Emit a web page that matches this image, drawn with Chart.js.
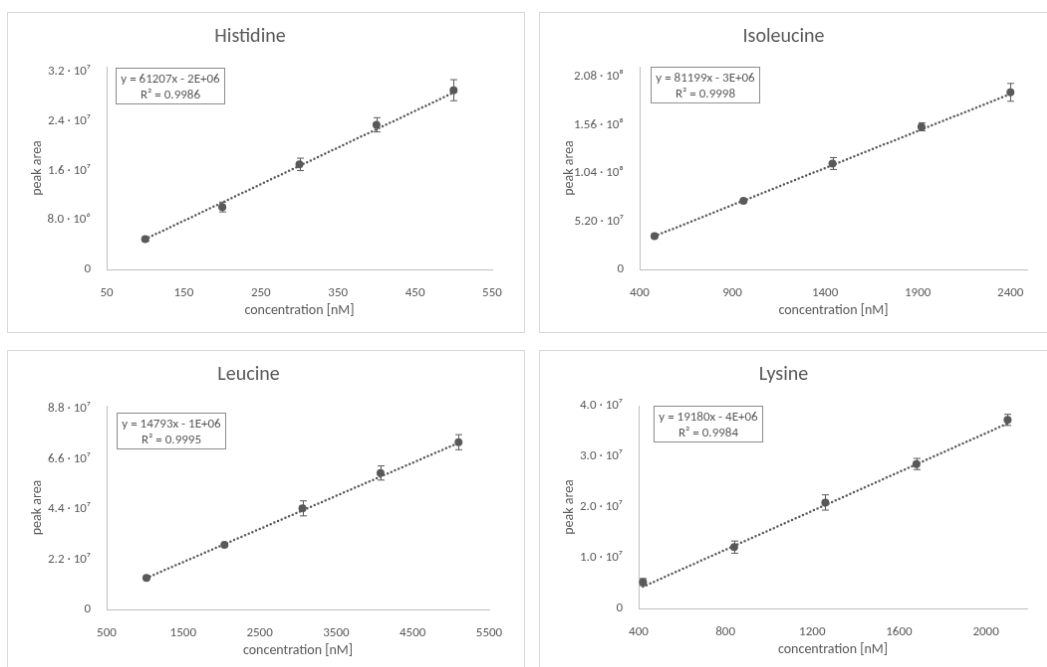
<!DOCTYPE html>
<html>
<head>
<meta charset="utf-8">
<script src="https://cdn.jsdelivr.net/npm/chart.js@4.4.1/dist/chart.umd.min.js"></script>
<style>
    body { margin: 0; background: #fff; width: 1047px; height: 667px; overflow: hidden; position: relative; }
    canvas { position: absolute; border: 1px solid #d9d9d9; }
</style>
</head>
<body>
<canvas id="his" width="518" height="321" style="left:7px;top:12px"></canvas>
<canvas id="iso" width="520" height="321" style="left:539px;top:12px"></canvas>
<canvas id="leu" width="518" height="330" style="left:7px;top:350px"></canvas>
<canvas id="lys" width="520" height="330" style="left:539px;top:350px"></canvas>
<script>
// Histidine
var hisX = [100, 200, 300, 400, 500];
var hisY = [4.9e6, 1.01e7, 1.70e7, 2.34e7, 2.90e7];
var hisErr = [0.3e6, 0.8e6, 1.0e6, 1.15e6, 1.7e6];
var hisTrendX = [100, 500];
var hisTrendY = [4.9e6, 2.86e7];
var hisXTicks = [50, 150, 250, 350, 450, 550];
var hisYTicks = [0, 8e6, 1.6e7, 2.4e7, 3.2e7];
var hisYLabels = ['0', '8.0 · 10⁶', '1.6 · 10⁷', '2.4 · 10⁷', '3.2 · 10⁷'];
var hisEq = ['y = 61207x - 2E+06', 'R² = 0.9986'];

// Isoleucine
var isoX = [480, 960, 1440, 1920, 2400];
var isoY = [3.58e7, 7.40e7, 1.141e8, 1.537e8, 1.908e8];
var isoErr = [1.0e6, 1.5e6, 6.4e6, 4.3e6, 9.6e6];
var isoTrendX = [480, 2400];
var isoTrendY = [3.58e7, 1.89e8];
var isoXTicks = [400, 900, 1400, 1900, 2400];
var isoYTicks = [0, 5.2e7, 1.04e8, 1.56e8, 2.08e8];
var isoYLabels = ['0', '5.20 · 10⁷', '1.04 · 10⁸', '1.56 · 10⁸', '2.08 · 10⁸'];
var isoEq = ['y = 81199x - 3E+06', 'R² = 0.9998'];

// Leucine
var leuX = [1020, 2040, 3060, 4080, 5100];
var leuY = [1.38e7, 2.83e7, 4.43e7, 5.98e7, 7.33e7];
var leuErr = [0.5e6, 0.6e6, 3.3e6, 3.1e6, 3.3e6];
var leuTrendX = [1020, 5100];
var leuTrendY = [1.38e7, 7.3e7];
var leuXTicks = [500, 1500, 2500, 3500, 4500, 5500];
var leuYTicks = [0, 2.2e7, 4.4e7, 6.6e7, 8.8e7];
var leuYLabels = ['0', '2.2 · 10⁷', '4.4 · 10⁷', '6.6 · 10⁷', '8.8 · 10⁷'];
var leuEq = ['y = 14793x - 1E+06', 'R² = 0.9995'];

// Lysine
var lysX = [420, 840, 1260, 1680, 2100];
var lysY = [5.2e6, 1.21e7, 2.09e7, 2.85e7, 3.72e7];
var lysErr = [0.7e6, 1.2e6, 1.5e6, 1.1e6, 1.1e6];
var lysTrendX = [420, 2100];
var lysTrendY = [4.3e6, 3.65e7];
var lysXTicks = [400, 800, 1200, 1600, 2000];
var lysYTicks = [0, 1e7, 2e7, 3e7, 4e7];
var lysYLabels = ['0', '1.0 · 10⁷', '2.0 · 10⁷', '3.0 · 10⁷', '4.0 · 10⁷'];
var lysEq = ['y = 19180x - 4E+06', 'R² = 0.9984'];

var grey = '#595959';
Chart.defaults.font.family = 'Carlito, Lato, sans-serif';
Chart.defaults.color = grey;

function toPoints(xs, ys) {
    var pts = [];
    for (var i = 0; i < xs.length; i++) pts.push({x: xs[i], y: ys[i]});
    return pts;
}

// error bars drawn under the markers
var errorBars = {
    id: 'errorBars',
    beforeDatasetsDraw: function (chart) {
        var err = chart.options.plugins.errorBars.err;
        var meta = chart.getDatasetMeta(0);
        var ys = chart.scales.y;
        var ctx = chart.ctx;
        ctx.save();
        ctx.strokeStyle = grey;
        ctx.lineWidth = 1;
        var data = chart.data.datasets[0].data;
        for (var i = 0; i < data.length; i++) {
            var px = Math.round(meta.data[i].x) + 0.5;
            var top = ys.getPixelForValue(data[i].y + err[i]);
            var bot = ys.getPixelForValue(data[i].y - err[i]);
            ctx.beginPath();
            ctx.moveTo(px, top); ctx.lineTo(px, bot);
            ctx.moveTo(px - 3.5, top); ctx.lineTo(px + 3.5, top);
            ctx.moveTo(px - 3.5, bot); ctx.lineTo(px + 3.5, bot);
            ctx.stroke();
        }
        ctx.restore();
    }
};

// trendline equation box
var eqBox = {
    id: 'eqBox',
    afterDraw: function (chart) {
        var o = chart.options.plugins.eqBox;
        var ctx = chart.ctx;
        var a = chart.chartArea;
        ctx.save();
        ctx.font = '13px Carlito, Lato, sans-serif';
        var w = Math.max(ctx.measureText(o.lines[0]).width, ctx.measureText(o.lines[1]).width) + 10;
        w = Math.round(w);
        var x = Math.round(a.left + o.dx) + 0.5;
        var y = Math.round(a.top + o.dy) + 0.5;
        ctx.fillStyle = '#fff';
        ctx.fillRect(x, y, w, 36);
        ctx.strokeStyle = '#8c8c8c';
        ctx.lineWidth = 1;
        ctx.strokeRect(x, y, w, 36);
        ctx.fillStyle = grey;
        ctx.textAlign = 'center';
        ctx.textBaseline = 'middle';
        ctx.fillText(o.lines[0], x + w / 2, y + 11);
        ctx.fillText(o.lines[1], x + w / 2, y + 27);
        ctx.restore();
    }
};

function makeChart(id, o) {
    var cv = document.getElementById(id);
    return new Chart(cv, {
        type: 'scatter',
        data: {
            datasets: [{
                data: toPoints(o.x, o.y),
                pointRadius: 4,
                pointBackgroundColor: grey,
                pointBorderWidth: 0,
                showLine: false
            }, {
                type: 'line',
                data: toPoints(o.trendX, o.trendY),
                borderColor: grey,
                borderWidth: 2.5,
                borderDash: [0, 4],
                borderCapStyle: 'round',
                pointRadius: 0,
                fill: false
            }]
        },
        options: {
            responsive: false,
            animation: false,
            layout: {
                padding: {left: 0, top: 0, right: cv.width - o.right, bottom: cv.height - o.bottom - 63}
            },
            plugins: {
                legend: {display: false},
                tooltip: {enabled: false},
                title: {
                    display: true,
                    text: o.title,
                    color: grey,
                    font: {size: 20, weight: 'normal'},
                    padding: {top: 12, bottom: o.top - 12 - 24}
                },
                errorBars: {err: o.err},
                eqBox: {lines: o.eq, dx: o.boxDx, dy: o.boxDy}
            },
            scales: {
                x: {
                    type: 'linear',
                    min: o.xMin,
                    max: o.xMax,
                    afterBuildTicks: function (s) { s.ticks = o.xTicks.map(function (v) { return {value: v}; }); },
                    afterFit: function (s) { s.height = 63; },
                    grid: {display: false},
                    border: {display: true, color: '#bfbfbf', width: 1},
                    ticks: {
                        autoSkip: false, maxRotation: 0, padding: 8, color: grey, font: {size: 13},
                        callback: function (v) { return String(v); }
                    },
                    title: {display: true, text: 'concentration [nM]', color: grey, font: {size: 14}, padding: {top: 0, bottom: 13.5}}
                },
                y: {
                    type: 'linear',
                    min: 0,
                    max: o.yMax,
                    afterBuildTicks: function (s) { s.ticks = o.yTicks.map(function (v) { return {value: v}; }); },
                    afterFit: function (s) { s.width = o.left; },
                    grid: {display: false},
                    border: {display: true, color: '#bfbfbf', width: 1},
                    ticks: {
                        padding: 8, color: grey, font: {size: 13},
                        callback: function (v, i) { return o.yLabels[i]; }
                    },
                    title: {display: true, text: 'peak area', color: grey, font: {size: 14}, padding: {top: 20.6, bottom: 0}}
                }
            }
        },
        plugins: [errorBars, eqBox]
    });
}

makeChart('his', {
    title: 'Histidine', x: hisX, y: hisY, err: hisErr, trendX: hisTrendX, trendY: hisTrendY,
    xTicks: hisXTicks, yTicks: hisYTicks, yLabels: hisYLabels, eq: hisEq,
    xMin: 50, xMax: 550, yMax: 3.28e7,
    left: 99, right: 486, top: 54, bottom: 258, boxDx: 9, boxDy: 1
});
makeChart('iso', {
    title: 'Isoleucine', x: isoX, y: isoY, err: isoErr, trendX: isoTrendX, trendY: isoTrendY,
    xTicks: isoXTicks, yTicks: isoYTicks, yLabels: isoYLabels, eq: isoEq,
    xMin: 400, xMax: 2490, yMax: 2.184e8,
    left: 100, right: 489, top: 54, bottom: 258, boxDx: 11, boxDy: 0
});
makeChart('leu', {
    title: 'Leucine', x: leuX, y: leuY, err: leuErr, trendX: leuTrendX, trendY: leuTrendY,
    xTicks: leuXTicks, yTicks: leuYTicks, yLabels: leuYLabels, eq: leuEq,
    xMin: 500, xMax: 5500, yMax: 8.93e7,
    left: 99, right: 483, top: 55, bottom: 260, boxDx: 10, boxDy: 7
});
makeChart('lys', {
    title: 'Lysine', x: lysX, y: lysY, err: lysErr, trendX: lysTrendX, trendY: lysTrendY,
    xTicks: lysXTicks, yTicks: lysYTicks, yLabels: lysYLabels, eq: lysEq,
    xMin: 400, xMax: 2190, yMax: 4.0e7,
    left: 99, right: 489, top: 55, bottom: 259, boxDx: 15, boxDy: 0
});
</script>
</body>
</html>
